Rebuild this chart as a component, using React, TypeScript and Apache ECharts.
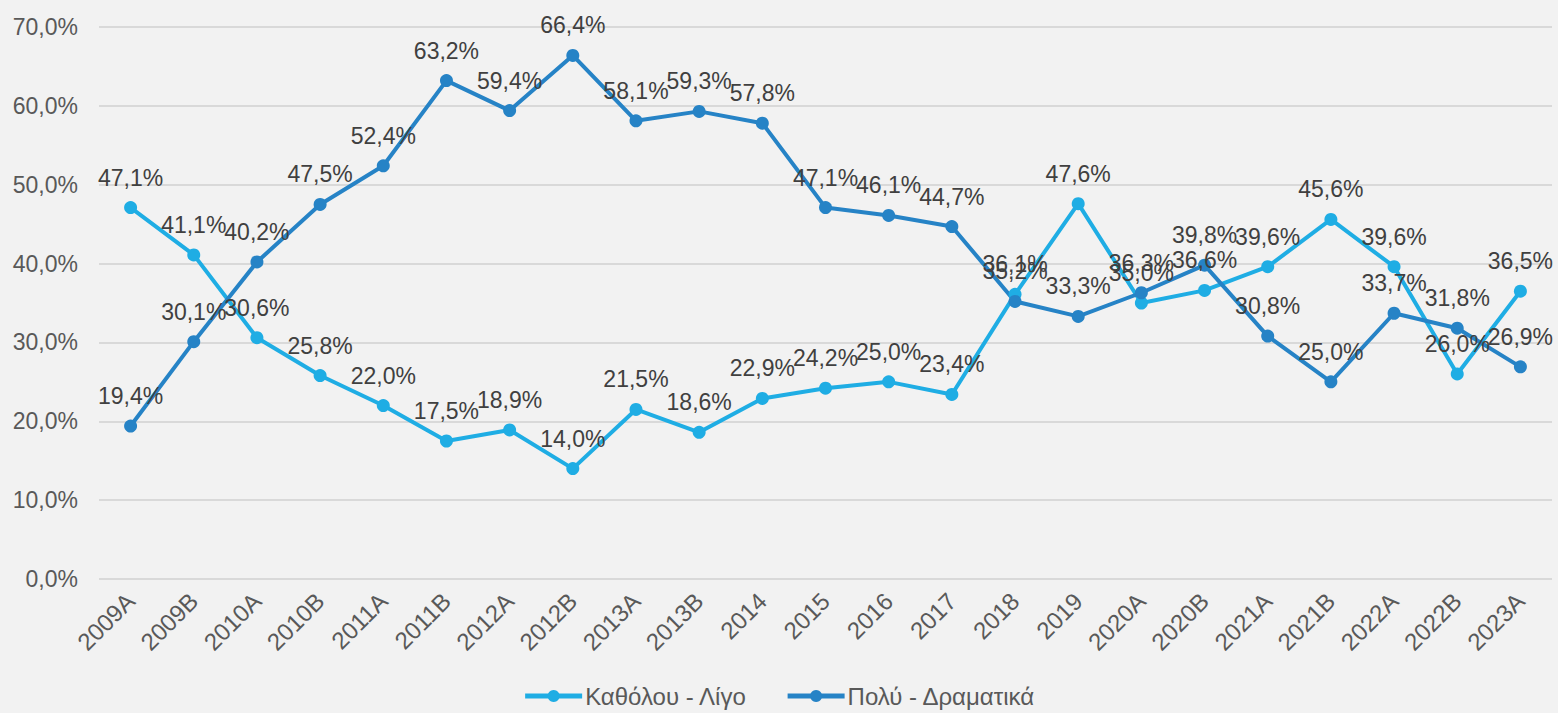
import React, { useEffect, useRef } from "react";
import * as echarts from "echarts";

const categories = ["2009A","2009B","2010A","2010B","2011A","2011B","2012A","2012B","2013A","2013B","2014","2015","2016","2017","2018","2019","2020A","2020B","2021A","2021B","2022A","2022B","2023A"];
const seriesLowName = "Καθόλου - Λίγο";
const seriesHighName = "Πολύ - Δραματικά";
const lowValues = [47.1,41.1,30.6,25.8,22.0,17.5,18.9,14.0,21.5,18.6,22.9,24.2,25.0,23.4,36.1,47.6,35.0,36.6,39.6,45.6,39.6,26.0,36.5];
const highValues = [19.4,30.1,40.2,47.5,52.4,63.2,59.4,66.4,58.1,59.3,57.8,47.1,46.1,44.7,35.2,33.3,36.3,39.8,30.8,25.0,33.7,31.8,26.9];
const yTicks = [0,10,20,30,40,50,60,70];

const fmt = (v: number) => v.toFixed(1).replace(".", ",") + "%";
const FONT = "'Liberation Sans', Arial, sans-serif";

export default function App() {
  const ref = useRef<HTMLDivElement>(null);
  useEffect(() => {
    if (!ref.current) return;
    const chart = echarts.init(ref.current, null, { renderer: "svg" });
    const mk = (name: string, data: number[], color: string) => ({
      name,
      type: "line",
      data,
      symbol: "circle",
      symbolSize: 13,
      lineStyle: { width: 4, color },
      itemStyle: { color },
      label: {
        show: true,
        position: "top",
        distance: 12,
        formatter: (p: any) => fmt(p.value),
        color: "#404040",
        fontSize: 23,
        fontFamily: FONT,
      },
      labelLayout: { hideOverlap: false },
    });
    chart.setOption({
      animation: false,
      backgroundColor: "#F2F2F2",
      textStyle: { fontFamily: FONT },
      grid: { left: 99, right: 6, top: 27, bottom: 134, containLabel: false },
      legend: {
        bottom: 0,
        left: "center",
        itemWidth: 57,
        itemHeight: 15,
        itemGap: 38,
        lineStyle: { width: 5 },
        textStyle: { fontSize: 24, color: "#595959", fontFamily: FONT, padding: [0, 0, 0, -2] },
        data: [seriesLowName, seriesHighName],
      },
      xAxis: {
        type: "category",
        data: categories,
        boundaryGap: true,
        axisLine: { show: false },
        axisTick: { show: false },
        axisLabel: { rotate: 45, fontSize: 24, color: "#595959", margin: 18, interval: 0, fontFamily: FONT },
      },
      yAxis: {
        type: "value",
        min: yTicks[0],
        max: yTicks[yTicks.length - 1],
        interval: 10,
        axisLine: { show: false },
        axisTick: { show: false },
        splitLine: { lineStyle: { color: "#D9D9D9", width: 2 } },
        axisLabel: { formatter: (v: number) => fmt(v), fontSize: 23, color: "#595959", margin: 21, fontFamily: FONT },
      },
      series: [mk(seriesLowName, lowValues, "#1FADE4"), mk(seriesHighName, highValues, "#2683C6")],
    });
    return () => chart.dispose();
  }, []);
  return <div ref={ref} style={{ width: 1558, height: 713, position: "absolute", left: 0, top: 0 }} />;
}
